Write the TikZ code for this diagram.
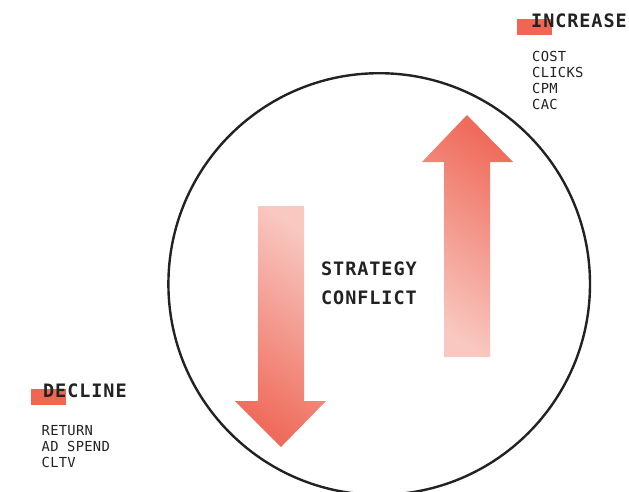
\documentclass[tikz,border=0pt]{standalone}
\usepackage{fontspec}
\setmonofont{DejaVu Sans Mono}[LetterSpace=2]
\newfontfamily\headfont{DejaVu Sans Mono}[LetterSpace=5]
\usepackage{tikz}
\usetikzlibrary{positioning}
\usepackage{xcolor}

\definecolor{inkgray}{RGB}{34,34,34}
\definecolor{tagred}{RGB}{240,101,84}
\definecolor{arrowdark}{RGB}{239,108,92}
\definecolor{arrowlight}{RGB}{248,200,193}

\tikzset{
  headlabel/.style={anchor=base west, inner sep=0pt, text=inkgray, font=\headfont\bfseries\fontsize{18.5}{22}\selectfont},
  itemlist/.style={anchor=north west, inner sep=0pt, align=left, text=inkgray, font=\ttfamily\fontsize{13.8}{16}\selectfont},
  tag/.style={fill=tagred, draw=none}
}

\begin{document}
\begin{tikzpicture}[x=1pt, y=-1pt]
\useasboundingbox (0,0) rectangle (629,491);
% ring
\begin{scope}
\clip (0,0) rectangle (629,491);
\draw[inkgray, line width=2.4pt] (379.2,284) circle[radius=210.8];
\end{scope}
% falling arrow
\shade[shading=axis, top color=arrowlight, bottom color=arrowdark, shading angle=-35]
  (258,206) -- (304,206) -- (304,401) -- (326,401) -- (281,447) -- (235,401) -- (258,401) -- cycle;
% rising arrow
\shade[shading=axis, top color=arrowdark, bottom color=arrowlight, shading angle=-35]
  (444,357) -- (490,357) -- (490,162) -- (513,162) -- (467,115) -- (422,162) -- (444,162) -- cycle;
% centre label
\node[headlabel] (strategy) at (321,275) {STRATEGY};
\node[headlabel] (conflict) at (321,304) {CONFLICT};
% top right
\fill[tag] (517,19) rectangle (552,34.5);
\node[headlabel] (increase) at (531,27) {INCREASE};
\node[itemlist] (uplist) at (532,51.5) {COST\\CLICKS\\CPM\\CAC};
% bottom left
\fill[tag] (31,389) rectangle (66,405);
\node[headlabel] (decline) at (43,397.5) {DECLINE};
\node[itemlist] (downlist) at (41.5,425) {RETURN\\AD SPEND\\CLTV};
\end{tikzpicture}
\end{document}
